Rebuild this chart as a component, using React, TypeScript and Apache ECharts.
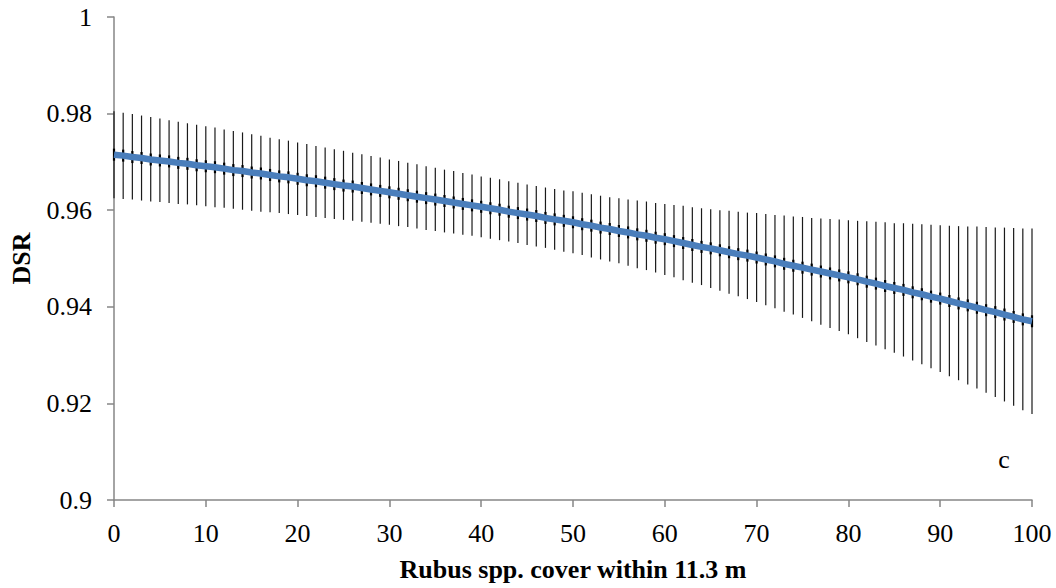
import React, { useEffect, useRef } from "react";
import * as echarts from "echarts";

const cover: number[] = Array.from({ length: 101 }, (_, i) => i);

const dsr: number[] = [
  0.9715, 0.9713, 0.9710, 0.9708, 0.9705, 0.9703, 0.9701, 0.9698, 0.9696, 0.9693,
  0.9691, 0.9689, 0.9686, 0.9683, 0.9681, 0.9678, 0.9676, 0.9673, 0.9670, 0.9668,
  0.9665, 0.9662, 0.9660, 0.9657, 0.9654, 0.9651, 0.9649, 0.9646, 0.9643, 0.9640,
  0.9637, 0.9634, 0.9631, 0.9628, 0.9625, 0.9622, 0.9619, 0.9616, 0.9613, 0.9610,
  0.9607, 0.9604, 0.9601, 0.9597, 0.9594, 0.9591, 0.9588, 0.9584, 0.9581, 0.9578,
  0.9575, 0.9571, 0.9568, 0.9564, 0.9561, 0.9557, 0.9554, 0.9550, 0.9547, 0.9543,
  0.9540, 0.9536, 0.9532, 0.9528, 0.9524, 0.9521, 0.9517, 0.9513, 0.9509, 0.9506,
  0.9502, 0.9498, 0.9494, 0.9489, 0.9485, 0.9481, 0.9477, 0.9473, 0.9469, 0.9465,
  0.9461, 0.9457, 0.9452, 0.9448, 0.9443, 0.9439, 0.9435, 0.9430, 0.9426, 0.9421,
  0.9417, 0.9412, 0.9407, 0.9403, 0.9398, 0.9393, 0.9389, 0.9384, 0.9379, 0.9374,
  0.9370,
];

const upper: number[] = [
  0.9805, 0.9802, 0.9799, 0.9796, 0.9793, 0.9790, 0.9786, 0.9783, 0.9780, 0.9777,
  0.9774, 0.9771, 0.9767, 0.9764, 0.9761, 0.9757, 0.9754, 0.9750, 0.9747, 0.9744,
  0.9740, 0.9737, 0.9733, 0.9730, 0.9726, 0.9723, 0.9719, 0.9716, 0.9712, 0.9709,
  0.9705, 0.9702, 0.9698, 0.9695, 0.9691, 0.9688, 0.9684, 0.9681, 0.9677, 0.9674,
  0.9670, 0.9667, 0.9664, 0.9660, 0.9657, 0.9653, 0.9650, 0.9647, 0.9644, 0.9641,
  0.9639, 0.9636, 0.9633, 0.9630, 0.9627, 0.9625, 0.9622, 0.9620, 0.9618, 0.9615,
  0.9613, 0.9611, 0.9609, 0.9606, 0.9604, 0.9602, 0.9600, 0.9599, 0.9597, 0.9595,
  0.9594, 0.9592, 0.9590, 0.9589, 0.9587, 0.9586, 0.9584, 0.9583, 0.9582, 0.9581,
  0.9579, 0.9578, 0.9577, 0.9576, 0.9575, 0.9573, 0.9573, 0.9572, 0.9571, 0.9570,
  0.9569, 0.9568, 0.9567, 0.9566, 0.9566, 0.9565, 0.9564, 0.9564, 0.9563, 0.9562,
  0.9562,
];

const lower: number[] = [
  0.9625, 0.9623, 0.9622, 0.9620, 0.9618, 0.9617, 0.9615, 0.9613, 0.9612, 0.9610,
  0.9608, 0.9606, 0.9605, 0.9603, 0.9601, 0.9599, 0.9597, 0.9596, 0.9594, 0.9592,
  0.9590, 0.9588, 0.9586, 0.9584, 0.9582, 0.9580, 0.9578, 0.9576, 0.9574, 0.9572,
  0.9570, 0.9567, 0.9565, 0.9562, 0.9559, 0.9557, 0.9554, 0.9552, 0.9549, 0.9547,
  0.9544, 0.9541, 0.9538, 0.9535, 0.9532, 0.9528, 0.9525, 0.9522, 0.9518, 0.9514,
  0.9511, 0.9507, 0.9502, 0.9498, 0.9494, 0.9490, 0.9485, 0.9480, 0.9476, 0.9471,
  0.9466, 0.9461, 0.9455, 0.9450, 0.9445, 0.9439, 0.9433, 0.9427, 0.9422, 0.9416,
  0.9410, 0.9403, 0.9397, 0.9390, 0.9384, 0.9377, 0.9370, 0.9363, 0.9356, 0.9350,
  0.9343, 0.9335, 0.9327, 0.9320, 0.9312, 0.9305, 0.9297, 0.9289, 0.9281, 0.9273,
  0.9265, 0.9256, 0.9248, 0.9239, 0.9231, 0.9222, 0.9213, 0.9204, 0.9195, 0.9186,
  0.9178,
];

const yTicks = { min: 0.9, max: 1, interval: 0.02 };
const xTicks = { min: 0, max: 100, interval: 10 };
const xTitle = "Rubus spp. cover within 11.3 m";
const yTitle = "DSR";
const panelLabel = "c";

const SERIF = '"Liberation Serif", "Times New Roman", serif';
const FS = 26;

export default function App() {
  const ref = useRef<HTMLDivElement>(null);

  useEffect(() => {
    if (!ref.current) return;
    const chart = echarts.init(ref.current, undefined, { renderer: "svg" });

    const barData = cover.map((x, i) => [x, lower[i], upper[i], dsr[i]]);
    const lineData = cover.map((x, i) => [x, dsr[i]]);

    chart.setOption({
      animation: false,
      backgroundColor: "#ffffff",
      grid: { left: 112, right: 24, top: 17, bottom: 88, containLabel: false },
      xAxis: {
        type: "value",
        min: xTicks.min,
        max: xTicks.max,
        interval: xTicks.interval,
        name: xTitle,
        nameLocation: "middle",
        nameGap: 56,
        nameTextStyle: { fontFamily: SERIF, fontSize: FS, fontWeight: "bold", color: "#000" },
        axisLine: { show: true, lineStyle: { color: "#868686", width: 1.5 } },
        axisTick: { show: true, length: 7, lineStyle: { color: "#868686", width: 1.5 } },
        axisLabel: { fontFamily: SERIF, fontSize: FS, color: "#000", margin: 20 },
        splitLine: { show: false },
      },
      yAxis: {
        type: "value",
        min: yTicks.min,
        max: yTicks.max,
        interval: yTicks.interval,
        name: yTitle,
        nameLocation: "middle",
        nameRotate: 90,
        nameGap: 80,
        nameTextStyle: { fontFamily: SERIF, fontSize: FS, fontWeight: "bold", color: "#000" },
        axisLine: { show: true, lineStyle: { color: "#868686", width: 1.5 } },
        axisTick: { show: true, length: 7, lineStyle: { color: "#868686", width: 1.5 } },
        axisLabel: {
          fontFamily: SERIF,
          fontSize: FS,
          color: "#000",
          margin: 22,
          formatter: (v: number) => String(parseFloat(v.toFixed(2))),
        },
        splitLine: { show: false },
      },
      series: [
        {
          type: "custom",
          z: 2,
          encode: { x: 0, y: [1, 2] },
          data: barData,
          renderItem: (params: any, api: any) => {
            const x = api.value(0);
            const lo = api.coord([x, api.value(1)]);
            const hi = api.coord([x, api.value(2)]);
            const mid = api.coord([x, api.value(3)]);
            return {
              type: "group",
              children: [
                {
                  type: "line",
                  shape: { x1: lo[0], y1: lo[1], x2: hi[0], y2: hi[1] },
                  style: { stroke: "#1a1a1a", lineWidth: 1.2 },
                },
                {
                  type: "line",
                  shape: { x1: mid[0], y1: mid[1] - 6, x2: mid[0], y2: mid[1] + 6 },
                  style: { stroke: "#000", lineWidth: 2.2 },
                },
              ],
            };
          },
        },
        {
          type: "line",
          z: 3,
          data: lineData,
          showSymbol: false,
          smooth: false,
          lineStyle: { color: "#4a7ebb", width: 6.5 },
          itemStyle: { color: "#4a7ebb" },
        },
      ],
      graphic: [
        {
          type: "text",
          x: 1004,
          y: 459,
          style: {
            text: panelLabel,
            fontFamily: SERIF,
            fontSize: FS,
            fill: "#000",
            textAlign: "center",
            textVerticalAlign: "middle",
          },
        },
      ],
    });

    return () => {
      chart.dispose();
    };
  }, []);

  return (
    <div
      ref={ref}
      style={{ position: "fixed", left: 0, top: 0, width: 1056, height: 588, background: "#fff" }}
    />
  );
}
